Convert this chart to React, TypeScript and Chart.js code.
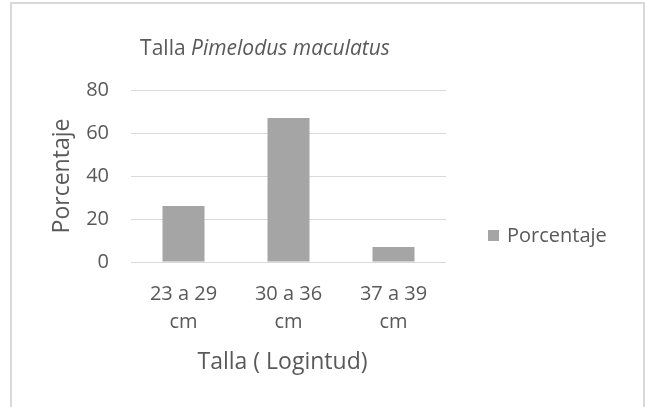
import React, { useEffect, useRef } from "react";
import { Chart, registerables } from "chart.js";

Chart.register(...registerables);

const categories: string[][] = [["23 a 29", "cm"], ["30 a 36", "cm"], ["37 a 39", "cm"]];
const seriesLabel = "Porcentaje";
const seriesValues: number[] = [26, 67, 7];
const yTicks = { min: 0, max: 80, step: 20 };
const titleNormal = "Talla ";
const titleItalic = "Pimelodus maculatus";
const xTitle = "Talla ( Logintud)";
const yTitle = "Porcentaje";

const TEXT = "#595959";
const GRID = "#d9d9d9";
const BAR = "#a5a5a5";
const FONT = "'Open Sans', 'Noto Sans', sans-serif";

const textPlugin = {
  id: "excelTexts",
  afterDraw(chart: any) {
    const ctx = chart.ctx;
    const area = chart.chartArea;
    ctx.save();
    ctx.fillStyle = TEXT;
    // title
    ctx.textBaseline = "alphabetic";
    ctx.font = `21px ${FONT}`;
    const w1 = ctx.measureText(titleNormal).width;
    ctx.font = `italic 21px ${FONT}`;
    const w2 = ctx.measureText(titleItalic).width;
    const startX = 265 - (w1 + w2) / 2;
    ctx.textAlign = "left";
    ctx.font = `21px ${FONT}`;
    ctx.fillText(titleNormal, startX, 55);
    ctx.font = `italic 21px ${FONT}`;
    ctx.fillText(titleItalic, startX + w1, 55);
    // x axis title
    ctx.font = `23px ${FONT}`;
    ctx.textAlign = "center";
    ctx.textBaseline = "middle";
    ctx.fillText(xTitle, (area.left + area.right) / 2 - 6, 362);
    // y axis title
    ctx.save();
    ctx.translate(62, (area.top + area.bottom) / 2);
    ctx.rotate(-Math.PI / 2);
    ctx.fillText(yTitle, 0, 0);
    ctx.restore();
    // legend
    const ds = chart.data.datasets[0];
    ctx.fillStyle = ds.backgroundColor;
    ctx.fillRect(488, 230, 11, 11);
    ctx.fillStyle = TEXT;
    ctx.font = `20px ${FONT}`;
    ctx.textAlign = "left";
    ctx.textBaseline = "middle";
    ctx.fillText(ds.label, 507, 236);
    ctx.restore();
  },
};

export default function App() {
  const ref = useRef<HTMLCanvasElement | null>(null);
  useEffect(() => {
    if (!ref.current) return;
    const chart = new Chart(ref.current, {
      type: "bar",
      data: {
        labels: categories,
        datasets: [
          {
            label: seriesLabel,
            data: seriesValues,
            backgroundColor: BAR,
            categoryPercentage: 1,
            barPercentage: 0.4,
          },
        ],
      },
      options: {
        animation: false,
        responsive: false,
        maintainAspectRatio: false,
        layout: { padding: { left: 71, right: 199, top: 90, bottom: 65 } },
        plugins: {
          legend: { display: false },
          title: { display: false },
          tooltip: { enabled: false },
        },
        scales: {
          x: {
            grid: { display: false, drawTicks: false },
            border: { display: false },
            ticks: {
              color: TEXT,
              font: { family: FONT, size: 20, lineHeight: 1.4 },
              padding: 18,
              maxRotation: 0,
              autoSkip: false,
            },
            afterFit: (s: any) => {
              s.height = 80;
            },
          },
          y: {
            min: yTicks.min,
            max: yTicks.max,
            grid: { color: GRID, lineWidth: 1, drawTicks: false },
            border: { display: false },
            ticks: {
              stepSize: yTicks.step,
              color: TEXT,
              font: { family: FONT, size: 20 },
              padding: 22,
            },
            afterFit: (s: any) => {
              s.width = 60;
            },
          },
        },
      },
      plugins: [textPlugin],
    });
    return () => chart.destroy();
  }, []);
  return (
    <div style={{ position: "fixed", left: 0, top: 0, width: 645, height: 407, background: "#fff", overflow: "hidden" }}>
      <canvas ref={ref} width={645} height={407} style={{ position: "absolute", left: 0, top: 0 }} />
      <div
        style={{
          position: "absolute",
          left: 10,
          top: 2,
          width: 631,
          height: 420,
          border: `2px solid ${GRID}`,
          pointerEvents: "none",
        }}
      />
    </div>
  );
}
